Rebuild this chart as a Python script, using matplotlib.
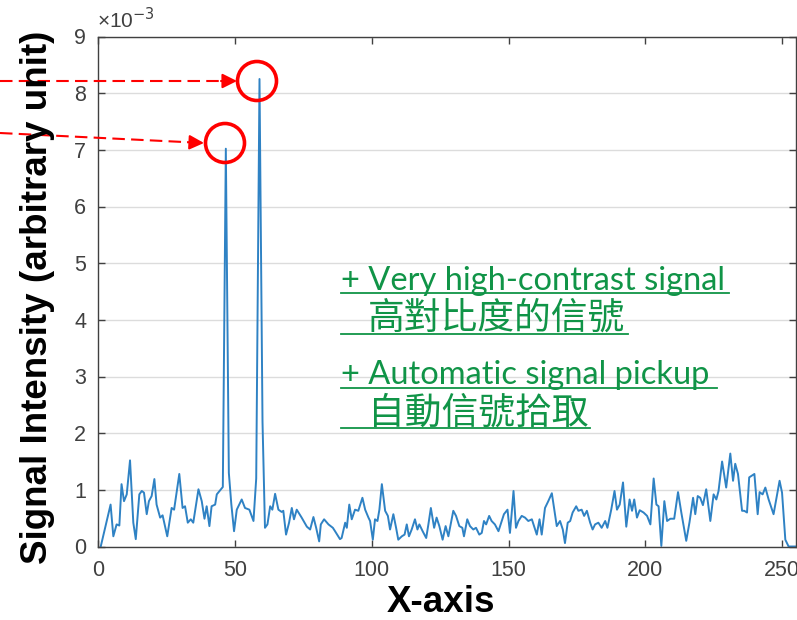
import numpy as np
import matplotlib
matplotlib.use("Agg")
import matplotlib.pyplot as plt
from matplotlib.lines import Line2D
from matplotlib.patches import Circle
from matplotlib.transforms import IdentityTransform

# signal trace (x position, intensity in 1e-3 units)
pos_a = [1.0, 4.6, 5.6, 6.8, 7.8, 8.6, 9.5, 10.5, 11.7, 12.9, 13.8, 15.1, 16.0, 16.8, 17.8, 18.6,
         19.6, 20.6, 21.4, 22.7, 23.6, 25.3, 26.9, 27.8, 29.7, 30.9, 31.8, 32.8, 33.9, 34.8, 36.7,
         37.9, 38.9, 39.7, 40.7, 41.5, 42.8, 43.4, 44.6, 45.6, 46.7, 47.8, 48.7, 49.7, 50.7, 52.5,
         53.7, 55.3, 56.8, 57.8, 59.0, 60.1, 61.0]
val_a = [0.00, 0.74, 0.18, 0.39, 0.37, 1.10, 0.80, 0.92, 1.52, 0.42, 0.13, 0.92, 0.98, 0.95, 0.57, 0.80,
         0.89, 1.19, 0.74, 0.51, 0.55, 0.18, 0.68, 0.65, 1.28, 0.68, 0.71, 0.42, 0.48, 0.42, 1.01,
         0.80, 0.49, 0.71, 0.36, 0.71, 0.74, 0.92, 0.99, 1.05, 7.02, 1.30, 0.75, 0.27, 0.65, 0.83,
         0.68, 0.65, 0.45, 1.20, 8.25, 2.20, 0.33]

pos_b = [61.9, 62.9, 63.7, 64.7, 65.9, 67.1, 67.7, 68.7, 69.8, 70.8, 71.6, 72.6, 74.4, 76.3, 77.5,
         78.7, 79.7, 80.8, 81.4, 82.6, 84.2, 85.8, 86.6, 88.4, 89.0, 90.3, 90.9, 91.8, 92.7, 93.9,
         95.1, 96.6, 97.6, 98.8, 99.4, 100.4, 101.2, 102.1, 102.8, 103.7, 104.9, 105.9, 106.7, 107.9,
         108.9, 109.7, 111.0, 112.0, 112.8, 113.6, 114.6, 115.8, 116.7, 117.4, 118.6, 119.9, 120.7, 121.6]
val_b = [0.39, 0.71, 0.65, 0.93, 0.65, 0.61, 0.63, 0.21, 0.42, 0.68, 0.48, 0.65, 0.51, 0.35, 0.30,
         0.52, 0.33, 0.09, 0.39, 0.48, 0.39, 0.33, 0.27, 0.13, 0.15, 0.42, 0.33, 0.74, 0.48, 0.65,
         0.63, 0.86, 0.65, 0.51, 0.45, 0.12, 0.48, 0.45, 0.65, 1.10, 0.63, 0.54, 0.30, 0.57,
         0.33, 0.12, 0.18, 0.21, 0.39, 0.18, 0.30, 0.48, 0.30, 0.39, 0.27, 0.15, 0.39, 0.68]

pos_c = [122.8, 123.7, 124.7, 125.9, 127.0, 128.0, 129.8, 130.8, 132.0, 133.1, 133.7, 134.9, 135.9,
         137.1, 138.1, 139.3, 140.2, 141.0, 141.8, 142.9, 143.8, 145.0, 146.3, 147.5, 148.3, 149.6,
         150.5, 151.1, 151.8, 152.7, 153.6, 154.8, 156.0, 157.2, 158.5, 159.3, 160.3, 161.3, 162.1,
         163.3, 164.5, 165.8, 166.7, 167.6, 168.8, 169.8, 170.6, 171.6, 172.5, 173.4, 174.7, 175.5,
         176.7, 177.6, 178.6, 179.8, 180.7, 181.6, 182.8, 184.0, 185.3, 186.1]
val_c = [0.33, 0.51, 0.36, 0.12, 0.36, 0.18, 0.63, 0.54, 0.36, 0.33, 0.18, 0.48, 0.36,
         0.30, 0.33, 0.21, 0.24, 0.45, 0.39, 0.54, 0.45, 0.39, 0.27, 0.45, 0.57, 0.65,
         0.24, 0.57, 0.98, 0.33, 0.45, 0.54, 0.51, 0.45, 0.48, 0.36, 0.21, 0.48, 0.21,
         0.68, 0.80, 0.94, 0.65, 0.36, 0.45, 0.30, 0.06, 0.42, 0.45, 0.60, 0.71, 0.63,
         0.65, 0.54, 0.63, 0.42, 0.30, 0.39, 0.42, 0.33, 0.45, 0.33]

pos_d = [187.5, 188.7, 189.6, 190.6, 191.8, 193.0, 194.2, 195.1, 195.9, 196.9, 197.9, 199.3, 200.6,
         201.8, 203.0, 204.0, 204.8, 205.8, 206.9, 207.9, 209.1, 210.5, 211.9, 213.1, 214.9, 216.1,
         217.4, 218.2, 219.1, 220.0, 221.0, 222.2, 223.7, 224.9, 225.9, 226.7, 228.0, 229.5, 231.0,
         232.0, 232.8, 233.8, 235.3, 236.1, 237.1, 237.9, 239.8, 241.0, 241.7, 242.8, 243.8, 245.0,
         246.8, 249.0, 249.9, 251.1, 252.3, 255.0]
val_d = [0.65, 0.98, 0.65, 0.74, 1.13, 0.35, 0.83, 0.63, 0.83, 0.51, 0.64, 0.60, 0.54,
         0.39, 1.20, 0.74, 0.71, 0.01, 0.80, 0.45, 0.49, 0.49, 0.96, 0.60, 0.10, 0.43,
         0.86, 0.57, 0.89, 0.86, 0.73, 1.01, 0.45, 0.92, 0.83, 0.98, 1.50, 1.04, 1.64,
         1.16, 1.46, 1.28, 0.63, 0.63, 0.60, 1.22, 1.28, 0.57, 0.96, 0.92, 1.04, 0.83,
         0.57, 1.16, 0.95, 0.12, 0.00, 0.00]

x_ticks = [0, 50, 100, 150, 200, 250]
y_ticks = [0, 1, 2, 3, 4, 5, 6, 7, 8, 9]

notes_en = ["+ Very high-contrast signal", "+ Automatic signal pickup"]
notes_zh = ["高對比度的信號", "自動信號拾取"]

W, H = 797, 620
fig = plt.figure(figsize=(W / 100, H / 100), dpi=100)
ax = fig.add_axes([98 / W, (H - 546.5) / H, (796 - 98) / W, (546.5 - 36.5) / H])

x = np.array(pos_a + pos_b + pos_c + pos_d)
y = np.array(val_a + val_b + val_c + val_d)
ax.plot(x, y, color="#2f82c4", lw=1.4)

ax.set_xlim(0, 255)
ax.set_ylim(0, 9)
ax.set_xticks(x_ticks)
ax.set_yticks(y_ticks)
ax.yaxis.grid(True, color="#dcdcdc", lw=1)
ax.set_axisbelow(True)
ax.tick_params(direction="in", top=True, right=True, length=5, width=1, colors="#404040",
               labelsize=15.5, labelcolor="#404040")
ax.tick_params(axis="x", pad=10)
ax.tick_params(axis="y", pad=8.5)
for lab in ax.get_xticklabels() + ax.get_yticklabels():
    lab.set_family("Liberation Sans")
for s in ax.spines.values():
    s.set_color("#404040")
    s.set_linewidth(1)

fig.text(97 / W, 1 - 20 / H, "×10$^{-3}$", fontsize=15, color="#404040", family="Liberation Sans",
         va="center", ha="left")

fig.text(38 / W, 1 - 297 / H, "Signal Intensity (arbitrary unit)", rotation=90, fontsize=26.5,
         fontweight="bold", family="Liberation Sans", ha="center", va="center")
fig.text(441 / W, 1 - 603 / H, "X-axis", fontsize=26.5, fontweight="bold", family="Liberation Sans",
         ha="center", va="center")

# green notes with underlines
green = "#109447"
ident = IdentityTransform()
fig.text(341 / W, 1 - 289.5 / H, notes_en[0], fontsize=23.5, color=green, family=["Lato", "DejaVu Sans"],
         va="baseline")
fig.text(368 / W, 1 - 329 / H, notes_zh[0], fontsize=26.5, color=green, family="Noto Sans CJK TC",
         va="baseline")
fig.text(341 / W, 1 - 384 / H, notes_en[1], fontsize=23.5, color=green, family=["Lato", "DejaVu Sans"],
         va="baseline")
fig.text(368 / W, 1 - 423.5 / H, notes_zh[1], fontsize=26.5, color=green, family="Noto Sans CJK TC",
         va="baseline")
for x0, x1, yy in [(341, 729, 293.3), (341, 628, 334), (341, 717, 387.7), (341, 590, 428.3)]:
    fig.add_artist(Line2D([x0, x1], [H - yy, H - yy], transform=ident, color=green, lw=1.3))

# red dashed arrows and circles
red = "#ff0000"
for (sx, sy), (tx, ty) in [((0, 81), (237, 81)), ((0, 133), (204, 143))]:
    hx = tx - 16 * (tx - sx) / np.hypot(tx - sx, ty - sy)
    hy = ty - 16 * (ty - sy) / np.hypot(tx - sx, ty - sy)
    fig.add_artist(Line2D([sx, hx], [H - sy, H - hy], transform=ident, color=red, lw=1.5,
                          linestyle=(0, (6, 3))))
    ax.annotate("", xy=(tx, H - ty), xytext=(hx, H - hy), xycoords="figure pixels",
                textcoords="figure pixels",
                arrowprops=dict(arrowstyle="-|>", color=red, lw=1.5, mutation_scale=22,
                                shrinkA=0, shrinkB=0), annotation_clip=False)
for cx, cy in [(257, 81), (225, 143)]:
    fig.add_artist(Circle((cx, H - cy), 19.5, transform=ident, fill=False, ec=red, lw=2.6))

fig.savefig("out.png", dpi=100)
